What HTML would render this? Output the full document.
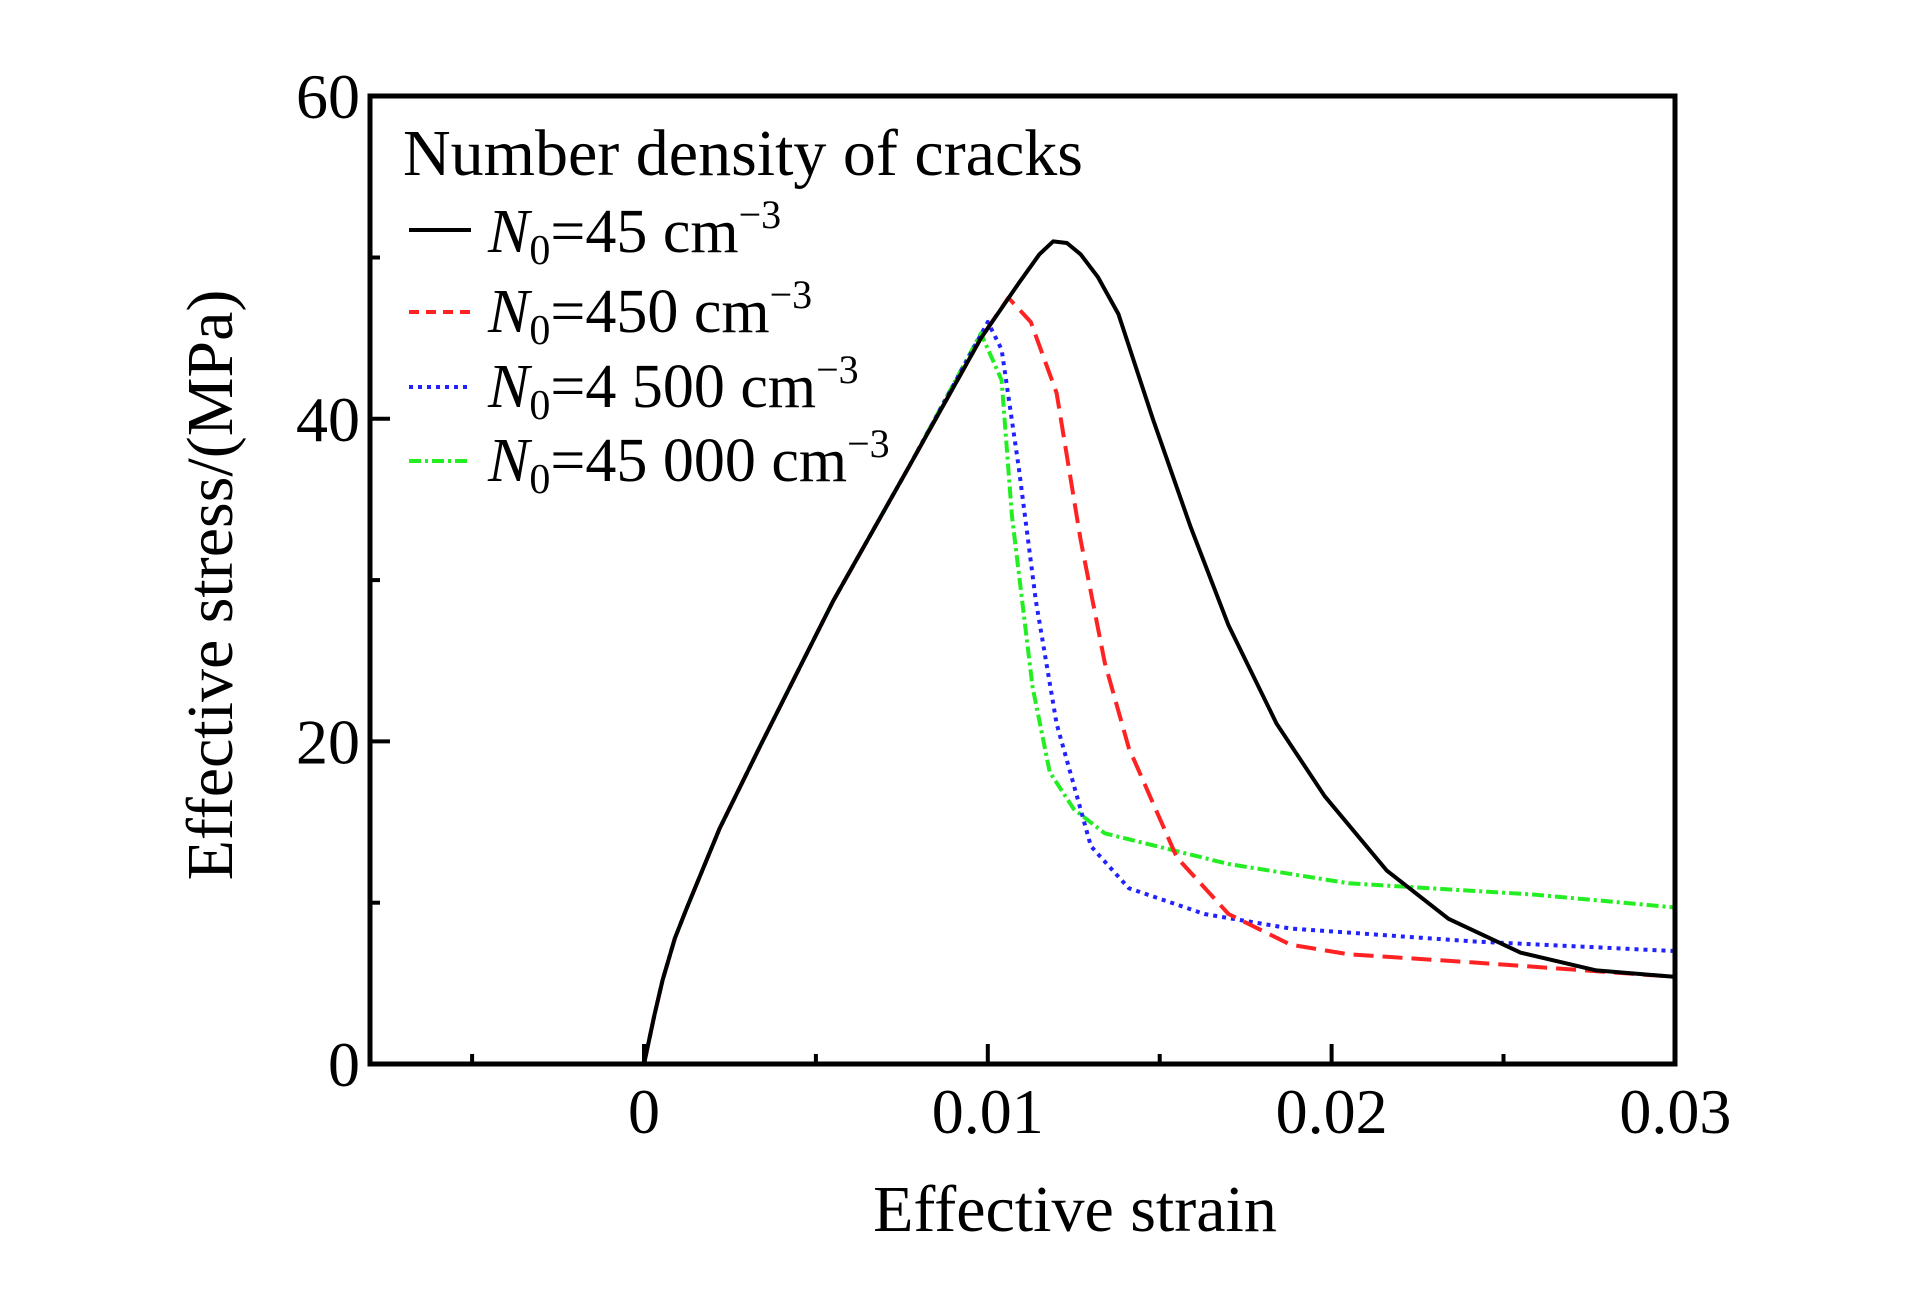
<!DOCTYPE html>
<html><head><meta charset="utf-8"><style>
body{margin:0;background:#fff;}
svg text{font-family:"Liberation Serif",serif;fill:#000;}
</style></head><body>
<svg id="chart" width="1923" height="1299" viewBox="0 0 1923 1299" xmlns="http://www.w3.org/2000/svg">
<g id="plot"></g>
<g id="axes"></g>
<g font-size="62">
<text x="403" y="175" font-size="66">Number density of cracks</text>
<line x1="409" y1="230" x2="471" y2="230" stroke="#000" stroke-width="4"/>
<text x="488" y="252"><tspan font-style="italic">N</tspan><tspan font-size="42" dy="12">0</tspan><tspan dy="-12">=45 cm</tspan><tspan font-size="40" dy="-24">−3</tspan></text>
<line x1="409" y1="312" x2="471" y2="312" stroke="#f22" stroke-width="4" stroke-dasharray="10,7"/>
<text x="488" y="332"><tspan font-style="italic">N</tspan><tspan font-size="42" dy="12">0</tspan><tspan dy="-12">=450 cm</tspan><tspan font-size="40" dy="-24">−3</tspan></text>
<line x1="409" y1="387" x2="471" y2="387" stroke="#22f" stroke-width="4" stroke-dasharray="4,5"/>
<text x="488" y="407"><tspan font-style="italic">N</tspan><tspan font-size="42" dy="12">0</tspan><tspan dy="-12">=4 500 cm</tspan><tspan font-size="40" dy="-24">−3</tspan></text>
<line x1="409" y1="461" x2="471" y2="461" stroke="#2e2" stroke-width="4" stroke-dasharray="12,4,3,4"/>
<text x="488" y="481"><tspan font-style="italic">N</tspan><tspan font-size="42" dy="12">0</tspan><tspan dy="-12">=45 000 cm</tspan><tspan font-size="40" dy="-24">−3</tspan></text>
</g>
<text x="1075" y="1231" font-size="66" text-anchor="middle">Effective strain</text>
<text transform="translate(232,585) rotate(-90)" font-size="66" text-anchor="middle">Effective stress/(MPa)</text>
</svg>
<script>
const xTicks=[0,0.01,0.02,0.03];
const xTickLabels=["0","0.01","0.02","0.03"];
const xMinor=[-0.005,0.005,0.015,0.025];
const yTicks=[0,20,40,60];
const yTickLabels=["0","20","40","60"];
const yMinor=[10,30,50];
const s45x=[0,0.0003,0.00054,0.0009,0.00125,0.0022,0.0034,0.0055,0.0077,0.0098,0.0109,0.0115,0.0119,0.0123,0.0127,0.0132,0.0138,0.0148,0.0159,0.017,0.0184,0.0198,0.0216,0.0234,0.0255,0.0277,0.03];
const s45y=[0,3,5.2,7.8,9.7,14.6,19.8,28.7,37,45,48.4,50.2,51,50.9,50.2,48.8,46.5,40,33.3,27.2,21.1,16.6,12,9,6.9,5.8,5.4];
const s450x=[0,0.0003,0.00054,0.0009,0.00125,0.0022,0.0034,0.0055,0.0077,0.0098,0.0106,0.01125,0.012,0.0127,0.0134,0.0141,0.0148,0.0155,0.017,0.0188,0.0205,0.0241,0.03];
const s450y=[0,3,5.2,7.8,9.7,14.6,19.8,28.7,37,45,47.5,46,41.6,32.5,24.9,19.6,16.2,12.8,9.3,7.4,6.8,6.3,5.4];
const s4500x=[0,0.0003,0.00054,0.0009,0.00125,0.0022,0.0034,0.0055,0.0077,0.01,0.0104,0.0109,0.0114,0.012,0.0125,0.013,0.0141,0.0163,0.0188,0.0241,0.03];
const s4500y=[0,3,5.2,7.8,9.7,14.6,19.8,28.7,37,46,44.3,37,28.7,21.1,17.3,13.5,10.9,9.3,8.4,7.6,7.0];
const s45000x=[0,0.0003,0.00054,0.0009,0.00125,0.0022,0.0034,0.0055,0.0077,0.0098,0.0104,0.0107,0.0113,0.0118,0.0125,0.0134,0.017,0.0205,0.0259,0.03];
const s45000y=[0,3,5.2,7.8,9.7,14.6,19.8,28.7,37,45.3,42.4,34,23.4,18.1,15.8,14.3,12.4,11.2,10.5,9.7];
const NS="http://www.w3.org/2000/svg";
const X=s=>644+s*34380, Y=v=>1064-v*16.13;
const plot=document.getElementById('plot'), axes=document.getElementById('axes');
function mk(tag,attrs,parent){const e=document.createElementNS(NS,tag);for(const k in attrs)e.setAttribute(k,attrs[k]);parent.appendChild(e);return e;}
function series(xs,ys,color,dash,name){
  let d=xs.map((x,i)=>(i?'L':'M')+X(x).toFixed(1)+','+Y(ys[i]).toFixed(1)).join('');
  const p=mk('path',{d:d,fill:'none',stroke:color,'stroke-width':4,'stroke-dasharray':dash,'stroke-linejoin':'round'},plot);
  
  
}
series(s45000x,s45000y,'#2e2','12,4,3,4','series-45000');
series(s4500x,s4500y,'#22f','4,5','series-4500');
series(s450x,s450y,'#f22','20,9','series-450');
series(s45x,s45y,'#000','none','series-45');
const frame=mk('rect',{x:370,y:96,width:1305,height:968,fill:'none',stroke:'#000','stroke-width':5},axes);


xTicks.forEach((t,i)=>{
  const l=mk('line',{x1:X(t),x2:X(t),y1:1064,y2:1044,stroke:'#000','stroke-width':4},axes);
  
  
  const tx=mk('text',{x:X(t),y:1133,'font-size':64,'text-anchor':'middle'},axes);
  tx.textContent=xTickLabels[i];
  
  
});
xMinor.forEach(t=>{
  const l=mk('line',{x1:X(t),x2:X(t),y1:1064,y2:1054,stroke:'#000','stroke-width':4},axes);
  
  
});
yTicks.forEach((t,i)=>{
  const l=mk('line',{x1:370,x2:390,y1:Y(t),y2:Y(t),stroke:'#000','stroke-width':4},axes);
  
  
  const tx=mk('text',{x:360,y:Y(t)+22,'font-size':64,'text-anchor':'end'},axes);
  tx.textContent=yTickLabels[i];
  
  
});
yMinor.forEach(t=>{
  const l=mk('line',{x1:370,x2:380,y1:Y(t),y2:Y(t),stroke:'#000','stroke-width':4},axes);
  
  
});
</script>
</body></html>
